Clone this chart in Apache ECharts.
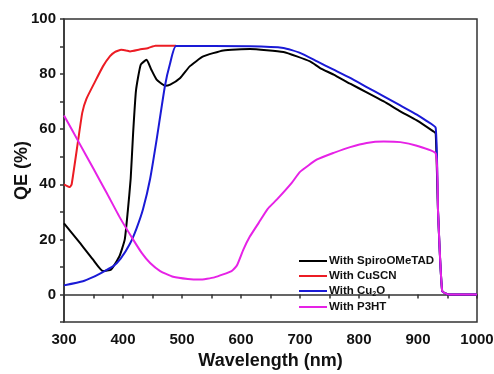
<!DOCTYPE html>
<html>
<head>
<meta charset="utf-8">
<script src="https://cdn.jsdelivr.net/npm/echarts@6/dist/echarts.min.js"></script>
<style>
  html, body { margin: 0; padding: 0; background: #fff; }
  #chart { width: 494px; height: 374px; }
</style>
</head>
<body>
<div id="chart"></div>
<script>
// wavelength (nm) / QE (%)
const spiroWl = [300, 327, 349, 366, 380, 394, 403, 408, 413, 417, 422, 430, 440, 448, 457, 471, 480, 497, 513, 536, 570, 615, 672, 717, 734, 757, 785, 813, 842, 870, 898, 926, 930, 934, 941, 952, 1000];
const spiroQE = [25.8, 18.7, 12.7, 8.5, 9.1, 13.9, 20, 30, 42, 58, 74, 83.4, 85.2, 81.6, 78, 75.8, 76.2, 78.6, 82.8, 86.4, 88.6, 89.1, 88.0, 84.6, 82.2, 79.8, 76.5, 73.4, 70.1, 66.5, 63.2, 59.2, 58.5, 30, 1.2, 0, 0];

const cuscnWl = [300, 310, 313, 324, 331, 338, 352, 366, 378, 386, 397, 405, 412, 428, 443, 455, 490];
const cuscnQE = [40, 39, 40, 56, 66, 71, 77, 82.8, 86.5, 88, 88.8, 88.6, 88.2, 88.9, 89.5, 90.3, 90.3];

const cu2oWl = [300, 332, 349, 361, 383, 396, 412, 423, 434, 446, 457, 471, 480, 490, 615, 672, 700, 729, 757, 785, 813, 842, 870, 898, 915, 930, 934, 941, 952, 1000];
const cu2oQE = [3.3, 4.8, 6.3, 7.6, 10.2, 13, 18.5, 24, 31, 42, 56.2, 75.6, 84, 90.2, 90.1, 89.5, 87.7, 84.6, 81.6, 78.6, 75.3, 71.9, 68.6, 65.3, 62.9, 60.5, 30, 1.2, 0, 0];

const p3htWl = [300, 325, 350, 372, 395, 417, 432, 446, 463, 485, 510, 530, 555, 584, 593, 604, 615, 630, 645, 661, 686, 700, 729, 757, 785, 813, 842, 870, 898, 930, 934, 941, 952, 1000];
const p3htQE = [65, 55.3, 45.6, 37, 27.8, 20, 15, 11.4, 8.5, 6.4, 5.6, 5.4, 6.2, 8.5, 10.5, 16.3, 21, 26, 31, 34.5, 40.5, 44.5, 49, 51.4, 53.5, 55, 55.5, 55.3, 54, 51.2, 30, 1.2, 0, 0];

const seriesNames = ['With SpiroOMeTAD', 'With CuSCN', 'With Cu2O', 'With P3HT'];
const seriesColors = ['#000000', '#ec1c24', '#1a1ad6', '#e622e6'];
const seriesData = [
  spiroWl.map((w, i) => [w, spiroQE[i]]),
  cuscnWl.map((w, i) => [w, cuscnQE[i]]),
  cu2oWl.map((w, i) => [w, cu2oQE[i]]),
  p3htWl.map((w, i) => [w, p3htQE[i]]),
];

const myChart = echarts.init(document.getElementById('chart'));
const font = 'Arial, "Liberation Sans", sans-serif';

const option = {
  animation: false,
  grid: {
    left: 64, right: 17, top: 19, bottom: 52,
    outerBoundsMode: 'none',
    containLabel: false,
    show: true,
    borderColor: '#333',
    borderWidth: 1.5,
  },
  legend: {
    orient: 'vertical',
    left: 294,
    top: 250,
    icon: 'rect',
    itemWidth: 28,
    itemHeight: 2,
    itemGap: 3,
    data: seriesNames,
    formatter: (name) => name === 'With Cu2O' ? 'With Cu{sub|2}O' : name,
    textStyle: {
      fontFamily: font,
      fontWeight: 'bold',
      fontSize: 11.5,
      color: '#111',
      padding: [0, 0, 0, -3],
      rich: {
        sub: { fontSize: 7, fontWeight: 'bold', fontFamily: font, color: '#111', padding: [7, 0, 0, 0] },
      },
    },
  },
  xAxis: {
    type: 'value',
    min: 300,
    max: 1000,
    interval: 50,
    name: 'Wavelength (nm)',
    nameLocation: 'middle',
    nameGap: 30,
    nameMoveOverlap: false,
    nameTextStyle: { fontFamily: font, fontWeight: 'bold', fontSize: 18, color: '#111' },
    axisLine: { lineStyle: { color: '#333', width: 1.5 } },
    axisTick: { length: 4, lineStyle: { color: '#333', width: 1.5 } },
    axisLabel: {
      fontFamily: font, fontWeight: 'bold', fontSize: 15, color: '#111', margin: 10,
      formatter: (v) => (v % 100 === 0 ? String(v) : ''),
    },
    splitLine: { show: false },
  },
  yAxis: {
    type: 'value',
    min: -10,
    max: 100,
    interval: 10,
    name: 'QE (%)',
    nameLocation: 'middle',
    nameGap: 33,
    nameMoveOverlap: false,
    nameTextStyle: { fontFamily: font, fontWeight: 'bold', fontSize: 18, color: '#111' },
    axisLine: { lineStyle: { color: '#333', width: 1.5 } },
    axisTick: { length: 4, lineStyle: { color: '#333', width: 1.5 } },
    axisLabel: {
      fontFamily: font, fontWeight: 'bold', fontSize: 15, color: '#111', margin: 8,
      formatter: (v) => (v >= 0 && v % 20 === 0 ? String(v) : ''),
    },
    splitLine: { show: false },
  },
  series: seriesNames.map((name, i) => ({
    name: name,
    type: 'line',
    symbol: 'none',
    smooth: 0.15,
    color: seriesColors[i],
    lineStyle: { width: 2, color: seriesColors[i] },
    data: seriesData[i],
  })),
};

option && myChart.setOption(option);
</script>
</body>
</html>
